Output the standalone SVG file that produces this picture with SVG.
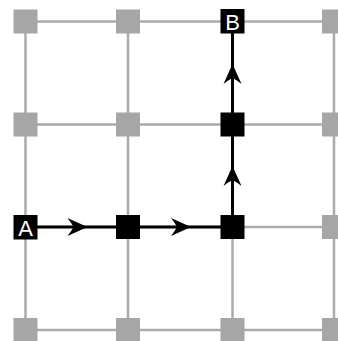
<svg xmlns="http://www.w3.org/2000/svg" xmlns:xlink="http://www.w3.org/1999/xlink" width="338" height="341" viewBox="0 0 338 341">
<style>
.grid{stroke:#aaaaaa;stroke-width:2.5;fill:none}
.path{stroke:#000;stroke-width:3;fill:none}
.g{fill:#a6a6a6}
.k{fill:#000}
.lbl{fill:#fff;font-family:"Liberation Sans",Arial,sans-serif;font-size:22px;text-anchor:middle}
</style>
<defs>
<path id="ah" d="M1,0 L-19,-9 Q-15,-4 -13,0 Q-15,4 -19,9 Z" fill="#000"/>
</defs>
<rect width="338" height="341" fill="#fff"/>
<g id="connectors">
<g class="grid">
<line x1="25.5" y1="21.5" x2="340" y2="21.5"/>
<line x1="25.5" y1="124.5" x2="340" y2="124.5"/>
<line x1="25.5" y1="227" x2="340" y2="227"/>
<line x1="25.5" y1="330" x2="340" y2="330"/>
<line x1="25.5" y1="21.5" x2="25.5" y2="345"/>
<line x1="128" y1="21.5" x2="128" y2="345"/>
<line x1="232.5" y1="21.5" x2="232.5" y2="345"/>
<line x1="334" y1="21.5" x2="334" y2="345"/>
</g>
<polyline class="path" points="25.5,227 232.5,227 232.5,21.5"/>
<use xlink:href="#ah" transform="translate(86.5,227)"/>
<use xlink:href="#ah" transform="translate(190,227)"/>
<use xlink:href="#ah" transform="translate(232.5,65) rotate(-90)"/>
<use xlink:href="#ah" transform="translate(232.5,167) rotate(-90)"/>
</g>
<g id="n00"><rect class="g" x="13.5" y="9.5" width="24" height="24"/></g>
<g id="n10"><rect class="g" x="116" y="9.5" width="24" height="24"/></g>
<g id="B"><rect class="k" x="220.5" y="9" width="24" height="24.5"/><text class="lbl" x="232.5" y="29.5">B</text></g>
<g id="n30"><rect class="g" x="322" y="9.5" width="24" height="24"/></g>
<g id="n01"><rect class="g" x="13.5" y="112.5" width="24" height="24"/></g>
<g id="n11"><rect class="g" x="116" y="112.5" width="24" height="24"/></g>
<g id="n21"><rect class="k" x="220.5" y="112.5" width="24" height="24"/></g>
<g id="n31"><rect class="g" x="322" y="112.5" width="24" height="24"/></g>
<g id="A"><rect class="k" x="13.5" y="215" width="24" height="24.5"/><text class="lbl" x="25.5" y="235.5">A</text></g>
<g id="n12"><rect class="k" x="116" y="215" width="24" height="24"/></g>
<g id="n22"><rect class="k" x="220.5" y="215" width="24" height="24"/></g>
<g id="n32"><rect class="g" x="322" y="215" width="24" height="24"/></g>
<g id="n03"><rect class="g" x="13.5" y="318" width="24" height="24"/></g>
<g id="n13"><rect class="g" x="116" y="318" width="24" height="24"/></g>
<g id="n23"><rect class="g" x="220.5" y="318" width="24" height="24"/></g>
<g id="n33"><rect class="g" x="322" y="318" width="24" height="24"/></g>
</svg>
